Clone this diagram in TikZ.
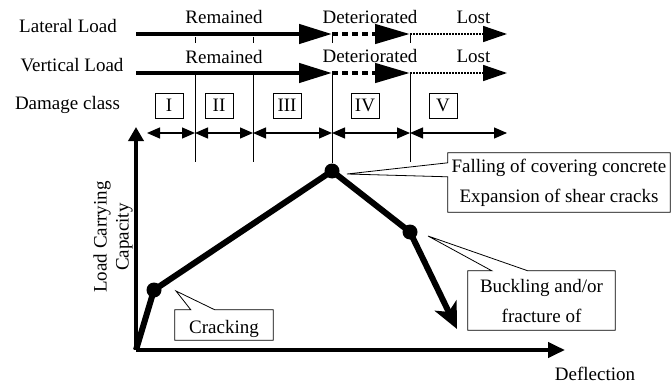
\documentclass[tikz,border=0pt]{standalone}
\usepackage{fontspec}
\setmainfont{Liberation Serif}
\usetikzlibrary{arrows.meta}

\begin{document}
\begin{tikzpicture}[x=1pt, y=-1pt, font=\fontsize{19}{22}\selectfont,
  txt/.style={inner sep=0pt, anchor=base},
  cls/.style={draw, line width=0.9pt, inner sep=0pt, minimum width=28, minimum height=25},
  box/.style={inner sep=0pt, align=center, font=\fontsize{19}{30}\selectfont},
  outl/.style={line width=0.8pt, fill=white},
  dot/.style={circle, fill, inner sep=0pt, minimum size=15},
  crv/.style={line width=6pt},
  big/.style={line width=4.5pt, -{Triangle[length=33pt, width=19pt]}},
  dim/.style={line width=1.2pt, {Triangle[length=13pt, width=11pt]}-{Triangle[length=13pt, width=11pt]}}]
\useasboundingbox (0,0) rectangle (671,385);

\node[txt] (lat) at (68,32.3) {Lateral Load};
\node[txt] (ver) at (72,71.5) {Vertical Load};
\node[txt] (dmg) at (67.5,110) {Damage class};
\node[txt] (rem1) at (224,23.3) {Remained};
\node[txt] (det1) at (370,23.5) {Deteriorated};
\node[txt] (lost1) at (473.5,23.5) {Lost};
\node[txt] (rem2) at (224,63.3) {Remained};
\node[txt] (det2) at (370,63) {Deteriorated};
\node[txt] (lost2) at (473.5,63) {Lost};

\foreach \n/\x in {a/136, b/195, c/253, d/332, e/410, f/507} {
  \coordinate (L\n) at (\x,34);
  \coordinate (V\n) at (\x,73);
}
\foreach \n/\x in {a/147, b/195, c/253, d/332, e/410, f/507}
  \coordinate (D\n) at (\x,133);

\draw[big] (La) -- (Ld);
\draw[big] (Va) -- (Vd);
\draw[line width=4.5pt, dash pattern=on 6pt off 4pt, -{Triangle[length=35pt, width=19pt]}] (Ld) -- (Le);
\draw[line width=4.5pt, dash pattern=on 6pt off 4pt, -{Triangle[length=35pt, width=19pt]}] (Vd) -- (Ve);
\draw[line width=1.5pt, dash pattern=on 1.5pt off 1.5pt, -{Triangle[length=24pt, width=16pt]}] (Le) -- (Lf);
\draw[line width=1.5pt, dash pattern=on 1.5pt off 1.5pt, -{Triangle[length=24pt, width=16pt]}] (Ve) -- (Vf);

\foreach \n in {b, c}
  \draw[line width=0.9pt] (L\n) ++(0,3) -- ++(0,6);
\foreach \n in {d, e}
  \draw[line width=0.9pt] (L\n) -- ++(0,9);

\node[cls] (c1) at (169,105.5) {I};
\node[cls] (c2) at (219,105.5) {II};
\node[cls] (c3) at (287,105.5) {III};
\node[cls] (c4) at (365,105.5) {IV};
\node[cls] (c5) at (443,105.5) {V};

\foreach \p/\q in {Da/Db, Db/Dc, Dc/Dd, Dd/De, De/Df}
  \draw[dim] (\p) -- (\q);

\coordinate (O) at (136,350);
\coordinate (ytip) at (136,127);
\coordinate (xtip) at (565,350);
\coordinate (E) at (457,329);
\node[dot] (A) at (154,290) {};
\node[dot] (B) at (332,171) {};
\node[dot] (C) at (410,232) {};

\draw[line width=0.9pt] (Vb) -- ++(0,89);
\draw[line width=0.9pt] (Vc) -- ++(0,89);
\draw[line width=0.9pt] (Vd) -- (B);
\draw[line width=0.9pt] (Ve) -- ++(0,89);

\draw[line width=4pt, -{Triangle[length=14pt, width=15pt]}] (O) -- (ytip);
\draw[line width=4pt, -{Triangle[length=17pt, width=15pt]}] (O) -- (xtip);

\draw[crv] (O) -- (A.center) -- (B.center) -- (C.center);
\draw[crv, -{Stealth[length=26pt, width=24pt, inset=7pt]}] (C.center) -- (E);

\node[txt] (defl) at (595,380) {Deflection};
\node[align=center, rotate=90, inner sep=0pt] (lcc) at (113,237) {Load Carrying\\Capacity};

\coordinate (ctip) at (176,291);
\coordinate (ftip) at (347,174);
\coordinate (btip) at (428,236);

\node[box, minimum width=98, minimum height=30] (crk) at (224,325) {};
\node[box, minimum width=222, minimum height=59] (fall) at (559,182.5) {};
\node[box, minimum width=147, minimum height=59] (buck) at (541.5,300.5) {};

\draw[outl] (crk.north west) -- ([xshift=16pt]crk.north west) -- (ctip) -- ([xshift=40pt]crk.north west)
  -- (crk.north east) -- (crk.south east) -- (crk.south west) -- cycle;
\draw[outl] (fall.north west) -- ([yshift=-10pt]fall.north west) -- (ftip) -- ([yshift=-24pt]fall.north west)
  -- (fall.south west) -- (fall.south east) -- (fall.north east) -- cycle;
\draw[outl] (buck.north west) -- ([xshift=24pt]buck.north west) -- (btip) -- ([xshift=60pt]buck.north west)
  -- (buck.north east) -- (buck.south east) -- (buck.south west) -- cycle;

\node[txt] (crkt) at (224,333) {Cracking};
\node[box] (fallt) at (fall) {Falling of covering concrete\\Expansion of shear cracks};
\node[box] (buckt) at (buck) {Buckling and/or\\fracture of};
\end{tikzpicture}
\end{document}
